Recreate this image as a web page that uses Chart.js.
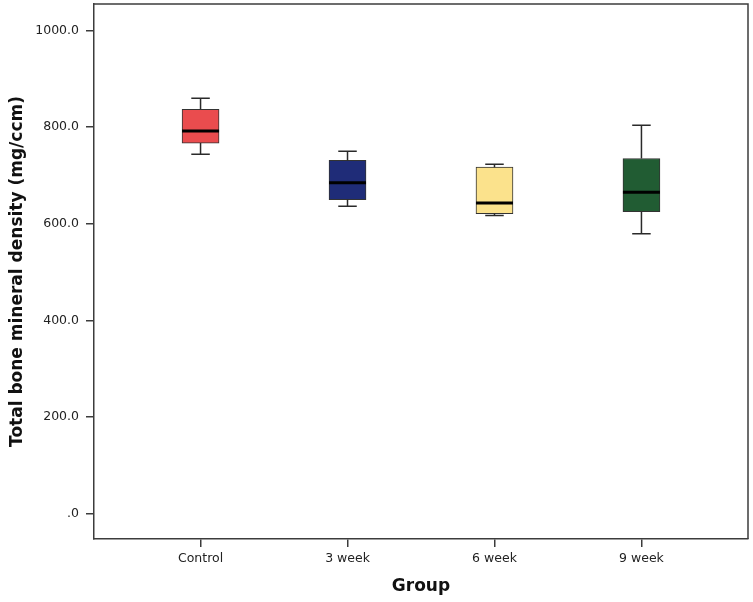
<!DOCTYPE html>
<html>
<head>
<meta charset="utf-8">
<script src="https://cdn.jsdelivr.net/npm/chart.js@4/dist/chart.umd.min.js"></script>
<style>
  html, body { margin: 0; padding: 0; background: #fff; }
  #wrap { width: 753px; height: 602px; }
</style>
</head>
<body>
<div id="wrap"><canvas id="boxChart" width="753" height="602"></canvas></div>
<script>
// Datos del box plot
const groups = ['Control', '3 week', '6 week', '9 week'];
const whiskerLow = [744, 636, 617, 579];
const q1 = [767, 650, 621, 625];
const median = [792, 685, 643, 665];
const q3 = [837, 731, 717, 735];
const whiskerHigh = [860, 750, 723, 804];
const yTicks = [0, 200, 400, 600, 800, 1000];
const boxColors = ['#ea4c4e', '#1f2c78', '#fbe28c', '#215c33'];

const axisColor = '#3c3c3c';

// Bigotes, medianas y marco del grafico
const boxExtras = {
  id: 'boxExtras',
  afterDatasetsDraw(chart) {
    const {ctx, chartArea, scales: {x, y}} = chart;
    const meta = chart.getDatasetMeta(0);
    ctx.save();
    groups.forEach((g, i) => {
      const bar = meta.data[i];
      const cx = x.getPixelForValue(i + 1);
      const half = bar.width / 2;
      const cap = half / 2;
      ctx.strokeStyle = '#2a2a2a';
      ctx.lineWidth = 1.5;
      ctx.beginPath();
      ctx.moveTo(cx, y.getPixelForValue(q3[i]));
      ctx.lineTo(cx, y.getPixelForValue(whiskerHigh[i]));
      ctx.moveTo(cx - cap, y.getPixelForValue(whiskerHigh[i]));
      ctx.lineTo(cx + cap, y.getPixelForValue(whiskerHigh[i]));
      ctx.moveTo(cx, y.getPixelForValue(q1[i]));
      ctx.lineTo(cx, y.getPixelForValue(whiskerLow[i]));
      ctx.moveTo(cx - cap, y.getPixelForValue(whiskerLow[i]));
      ctx.lineTo(cx + cap, y.getPixelForValue(whiskerLow[i]));
      ctx.stroke();
      // mediana
      ctx.strokeStyle = '#000';
      ctx.lineWidth = 3;
      ctx.beginPath();
      ctx.moveTo(cx - half, y.getPixelForValue(median[i]));
      ctx.lineTo(cx + half, y.getPixelForValue(median[i]));
      ctx.stroke();
    });
    // marco superior y derecho
    ctx.strokeStyle = axisColor;
    ctx.lineWidth = 1.5;
    ctx.beginPath();
    ctx.moveTo(chartArea.left, chartArea.top);
    ctx.lineTo(chartArea.right, chartArea.top);
    ctx.lineTo(chartArea.right, chartArea.bottom);
    ctx.stroke();
    ctx.restore();
  }
};

const ctx = document.getElementById('boxChart').getContext('2d');
new Chart(ctx, {
  type: 'bar',
  data: {
    datasets: [{
      label: 'Total bone mineral density',
      data: groups.map((g, i) => ({x: i + 1, y: [q1[i], q3[i]]})),
      backgroundColor: boxColors,
      borderColor: '#333',
      borderWidth: 1,
      borderSkipped: false,
      barThickness: 37
    }]
  },
  options: {
    responsive: false,
    animation: false,
    layout: {padding: {left: 0, top: 4, right: 5, bottom: 0}},
    plugins: {
      legend: {display: false},
      tooltip: {enabled: false}
    },
    scales: {
      x: {
        type: 'linear',
        min: 0.275,
        max: 4.725,
        offset: false,
        afterBuildTicks: s => { s.ticks = groups.map((g, i) => ({value: i + 1})); },
        afterFit: s => { s.height = 63; s.paddingLeft = 0; s.paddingRight = 0; },
        grid: {offset: false, drawOnChartArea: false, drawTicks: true, tickLength: 8, color: axisColor, lineWidth: 1.5},
        border: {display: true, color: axisColor, width: 1.5},
        ticks: {
          autoSkip: false,
          maxRotation: 0,
          padding: 4,
          color: '#222',
          font: {family: 'DejaVu Sans', size: 12.5},
          callback: v => groups[v - 1]
        },
        title: {
          display: true,
          text: 'Group',
          color: '#111',
          padding: {top: 0, bottom: 5},
          font: {family: 'DejaVu Sans', size: 17, weight: 'bold'}
        }
      },
      y: {
        min: -53,
        max: 1055,
        afterBuildTicks: s => { s.ticks = yTicks.map(v => ({value: v})); },
        afterFit: s => { s.width = 94; s.paddingTop = 0; s.paddingBottom = 0; },
        grid: {drawOnChartArea: false, drawTicks: true, tickLength: 8, color: axisColor, lineWidth: 1.5},
        border: {display: true, color: axisColor, width: 1.5},
        ticks: {
          padding: 7,
          color: '#222',
          font: {family: 'DejaVu Sans', size: 12.5},
          callback: v => v === 0 ? '.0' : v.toFixed(1)
        },
        title: {
          display: true,
          text: 'Total bone mineral density (mg/ccm)',
          color: '#111',
          padding: {top: 7, bottom: 0},
          font: {family: 'DejaVu Sans', size: 17, weight: 'bold'}
        }
      }
    }
  },
  plugins: [boxExtras]
});
</script>
</body>
</html>
